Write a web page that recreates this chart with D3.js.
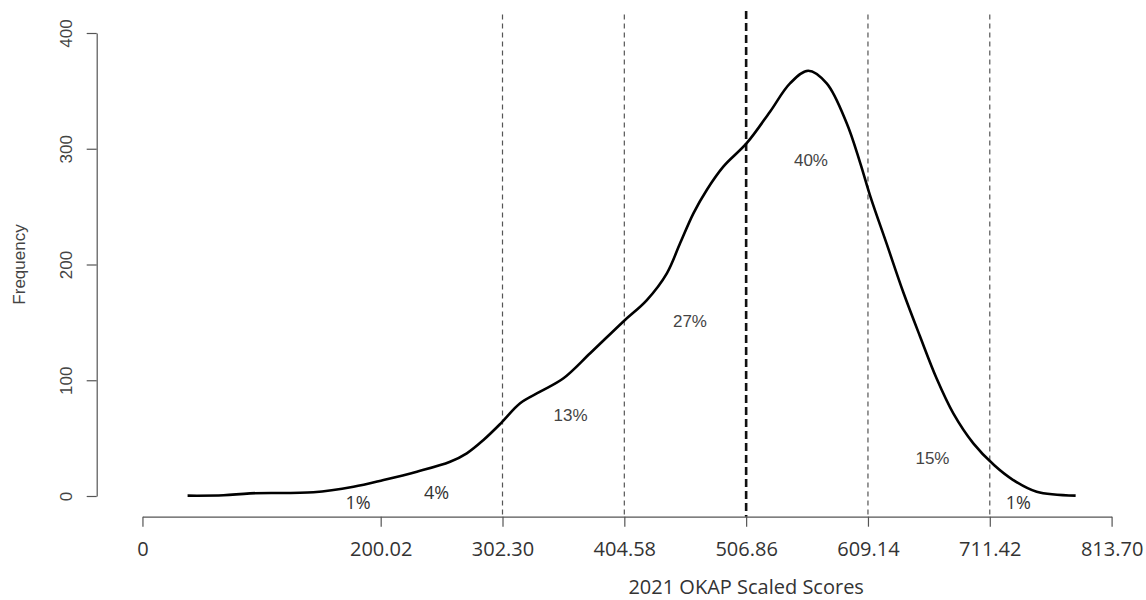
<!DOCTYPE html>
<html>
<head>
<meta charset="utf-8">
<script src="https://cdn.jsdelivr.net/npm/d3@7"></script>
<style>
  html, body { margin: 0; padding: 0; background: #fff; }
  svg { display: block; }
</style>
</head>
<body>
<svg id="chart" width="1146" height="600"></svg>
<script>
// ---- Data ----
const scores = [37.9, 68.1, 90.4, 143.6, 177.2, 202.4, 230.4, 258.3, 272.3, 286.3, 300.9, 317.1, 333.9, 353.5, 375.9, 403.6, 423.5, 440.3, 451.4, 462.6, 473.8, 487.7, 507.5, 526.9, 543.7, 559.0, 574.5, 591.3, 602.4, 611.4, 624.8, 638.8, 652.8, 666.8, 680.8, 697.6, 715.2, 731.1, 750.8, 783.5];
const frequencies = [0.3, 0.6, 2.3, 3.2, 8.0, 13.8, 21.0, 29.6, 36.9, 48.4, 62.8, 80.1, 90.1, 101.7, 123.3, 150.6, 169.3, 192.4, 218.3, 244.2, 264.4, 284.5, 305.0, 332.0, 356.5, 367.4, 356.5, 322.0, 288.5, 258.0, 218.0, 176.0, 138.0, 101.5, 71.4, 45.5, 26.5, 13.8, 3.7, 0.3];

const xTicks = [0, 200.02, 302.30, 404.58, 506.86, 609.14, 711.42, 813.70];
const xTickLabels = ["0", "200.02", "302.30", "404.58", "506.86", "609.14", "711.42", "813.70"];
const yTicks = [0, 100, 200, 300, 400];
const cutScores = [302.30, 404.58, 506.86, 609.14, 711.42];
const meanCut = 506.86;

const pctLabels = ["1%", "4%", "13%", "27%", "40%", "15%", "1%"];
const pctScore = [181.0, 247.0, 359.5, 459.7, 561.3, 663.3, 735.3];
const pctFreq = [-11.2, -2.6, 64.4, 145.6, 285.1, 27.6, -11.5];
const pctCalibriLike = [true, true, false, false, false, false, true];

const xTitle = "2021 OKAP Scaled Scores";
const yTitle = "Frequency";

// ---- Layout ----
const svg = d3.select("#chart");
const x = d3.scaleLinear().domain([0, 813.70]).range([142.45, 1111.6]);
const y = d3.scaleLinear().domain([0, 400]).range([496, 33]);
const yAxisX = 96.7;
const xAxisY = 516.7;
const humanist = "'Open Sans', 'Noto Sans', sans-serif";
const arial = "'Liberation Sans', Arial, sans-serif";

// Y axis
const yAxis = svg.append("g")
  .attr("transform", `translate(${yAxisX},0)`)
  .call(d3.axisLeft(y).tickValues(yTicks).tickSize(10).tickSizeOuter(0).tickFormat(d3.format("d")));
yAxis.select(".domain").attr("stroke", "#555").attr("stroke-width", 1.2);
yAxis.selectAll(".tick line").attr("stroke", "#555").attr("stroke-width", 1.2);
yAxis.selectAll(".tick text")
  .attr("x", null).attr("dy", null)
  .attr("transform", "translate(-25,0) rotate(-90)")
  .attr("text-anchor", "middle")
  .attr("fill", "#444")
  .style("font-family", arial)
  .style("font-size", "17px");

svg.append("text")
  .attr("transform", `translate(25,${y(200)}) rotate(-90)`)
  .attr("text-anchor", "middle")
  .attr("fill", "#444")
  .style("font-family", arial)
  .style("font-size", "17px")
  .text(yTitle);

// Cut-score dashed lines
const topY = y(416);
svg.append("g").selectAll("line")
  .data(cutScores.filter(d => d !== meanCut))
  .join("line")
  .attr("x1", d => x(d)).attr("x2", d => x(d))
  .attr("y1", topY).attr("y2", xAxisY)
  .attr("stroke", "#555")
  .attr("stroke-width", 1.2)
  .attr("stroke-dasharray", "5,4");

svg.append("line")
  .attr("x1", x(meanCut)).attr("x2", x(meanCut))
  .attr("y1", y(419)).attr("y2", xAxisY)
  .attr("stroke", "#111")
  .attr("stroke-width", 2.6)
  .attr("stroke-dasharray", "8,4");

// X axis
const xAxis = svg.append("g")
  .attr("transform", `translate(0,${xAxisY})`)
  .call(d3.axisBottom(x).tickValues(xTicks).tickSize(10).tickSizeOuter(0).tickPadding(15)
    .tickFormat((d, i) => xTickLabels[i]));
xAxis.select(".domain").attr("stroke", "#555").attr("stroke-width", 1.2);
xAxis.selectAll(".tick line").attr("stroke", "#555").attr("stroke-width", 1.2);
xAxis.selectAll(".tick text")
  .attr("fill", "#333")
  .style("font-family", humanist)
  .style("font-size", "20px");

svg.append("text")
  .attr("x", x(506.86))
  .attr("y", 594)
  .attr("text-anchor", "middle")
  .attr("fill", "#333")
  .style("font-family", humanist)
  .style("font-size", "20px")
  .text(xTitle);

// Density curve
const pts = scores.map((s, i) => [s, frequencies[i]]);
svg.append("path")
  .datum(pts)
  .attr("fill", "none")
  .attr("stroke", "#000")
  .attr("stroke-width", 2.6)
  .attr("stroke-linejoin", "round")
  .attr("d", d3.line().x(d => x(d[0])).y(d => y(d[1])).curve(d3.curveCatmullRom.alpha(0.5)));

// Percentage labels
svg.append("g").selectAll("text")
  .data(pctLabels)
  .join("text")
  .attr("x", (d, i) => x(pctScore[i]))
  .attr("y", (d, i) => y(pctFreq[i]))
  .attr("text-anchor", "middle")
  .attr("fill", (d, i) => pctCalibriLike[i] ? "#333" : "#444")
  .style("font-family", (d, i) => pctCalibriLike[i] ? humanist : arial)
  .style("font-size", (d, i) => pctCalibriLike[i] ? "18px" : "17px")
  .text(d => d);
</script>
</body>
</html>
